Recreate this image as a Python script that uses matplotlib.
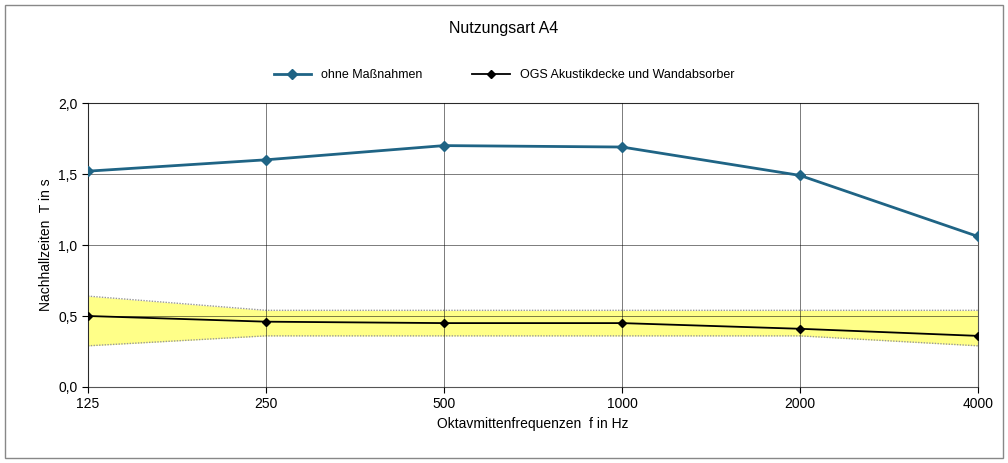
import numpy as np
import matplotlib.pyplot as plt
from matplotlib.patches import Rectangle

plt.rcParams['font.family'] = ['Liberation Sans', 'DejaVu Sans']

freqs = ["125", "250", "500", "1000", "2000", "4000"]
ohne = [1.52, 1.60, 1.70, 1.69, 1.49, 1.06]
ogs = [0.50, 0.46, 0.45, 0.45, 0.41, 0.36]
band_upper = [0.64, 0.54, 0.54, 0.54, 0.54, 0.54]
band_lower = [0.29, 0.36, 0.36, 0.36, 0.36, 0.29]

fig = plt.figure(figsize=(10.08, 4.63), dpi=100)
ax = fig.add_axes([88/1008, 1 - 387/463, 890/1008, 284/463])
x = np.arange(len(freqs))

ax.fill_between(x, band_lower, band_upper, color="#ffff88", zorder=1, lw=0)
ax.plot(x, band_upper, color="#999999", ls=(0, (1, 1)), lw=1, zorder=2)
ax.plot(x, band_lower, color="#999999", ls=(0, (1, 1)), lw=1, zorder=2)
ax.plot(x, ohne, color="#1f6485", lw=2, marker="D", ms=5, zorder=4, label="ohne Maßnahmen")
ax.plot(x, ogs, color="black", lw=1.3, marker="D", ms=4.5, zorder=4, label="OGS Akustikdecke und Wandabsorber")

ax.set_xlim(0, len(freqs) - 1)
ax.set_ylim(0, 2.0)
ax.set_xticks(x)
ax.set_xticklabels(freqs)
yt = np.arange(0, 2.01, 0.5)
ax.set_yticks(yt)
ax.set_yticklabels([f"{v:.1f}".replace(".", ",") for v in yt])
ax.grid(True, color="black", lw=0.6, alpha=0.6, zorder=3)
ax.set_axisbelow(False)
ax.tick_params(labelsize=10, direction="out", length=4)
for s in ax.spines.values():
    s.set_linewidth(0.8)
    s.set_color("#555555")
ax.set_xlabel("Oktavmittenfrequenzen  f in Hz", fontsize=10)
ax.set_ylabel("Nachhallzeiten  T in s", fontsize=10)

fig.text(0.5, 1 - 28/463, "Nutzungsart A4", ha="center", va="center", fontsize=11.5)
fig.legend(loc="center", bbox_to_anchor=(0.5, 1 - 75/463), ncol=2, frameon=False,
           fontsize=9, handlelength=3, columnspacing=4)
fig.patches.append(Rectangle((5/1008, 5/463), 998/1008, 453/463, transform=fig.transFigure,
                             fill=False, edgecolor="#888888", lw=1))

fig.savefig("out.png", dpi=100)
